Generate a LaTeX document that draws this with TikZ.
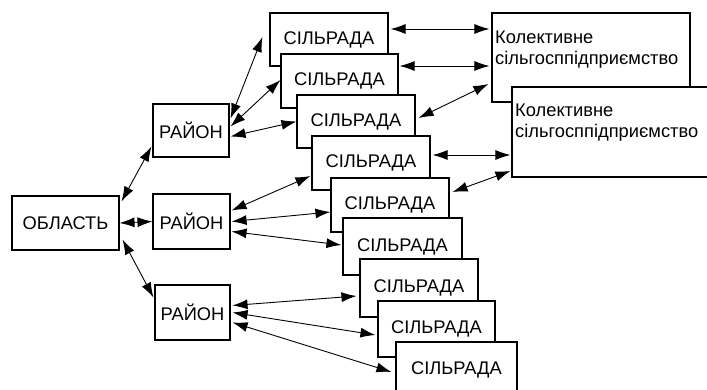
\documentclass[tikz,border=0pt]{standalone}
\usepackage{fontspec}
\setmainfont{Liberation Sans}
\usetikzlibrary{arrows.meta}
\begin{document}
\begin{tikzpicture}[x=1pt,y=-1pt,
  box/.style={draw, fill=white, line width=1.1pt, inner sep=0pt, font=\fontsize{18.3}{21}\selectfont},
  lbl/.style={inner sep=0pt, align=left, anchor=west, font=\fontsize{18.3}{21}\selectfont},
  dbl/.style={{Latex[length=15pt,width=10pt]}-{Latex[length=15pt,width=10pt]}, line width=0.9pt}]
\useasboundingbox (0,0) rectangle (707,390);
\node[box, minimum width=107pt, minimum height=54pt] (O) at (65.5,223) {ОБЛАСТЬ};
\node[box, minimum width=76pt, minimum height=53pt] (R1) at (191,130.5) {РАЙОН};
\node[box, minimum width=77pt, minimum height=55pt] (R2) at (191.5,221.5) {РАЙОН};
\node[box, minimum width=75pt, minimum height=55pt] (R3) at (192.5,312.5) {РАЙОН};
% Kolektyvne boxes
\node[box, minimum width=198pt, minimum height=89pt] (KA) at (591,57.5) {};
\node[lbl] (KAt) at (495,50) {Колективне\\сільгосппідприємство};
\node[box, minimum width=208pt, minimum height=90pt] (KB) at (616,132) {};
\node[lbl] (KBt) at (515,123) {Колективне\\сільгосппідприємство};
% Silrada cascade
\node[box, minimum width=118pt, minimum height=53pt] (S1) at (329,39.5) {СІЛЬРАДА};
\node[box, minimum width=117pt, minimum height=54pt] (S2) at (339.5,81) {СІЛЬРАДА};
\node[box, minimum width=118pt, minimum height=53pt] (S3) at (356,121.5) {СІЛЬРАДА};
\node[box, minimum width=118pt, minimum height=54pt] (S4) at (371,163) {СІЛЬРАДА};
\node[box, minimum width=118pt, minimum height=54pt] (S5) at (390,205) {СІЛЬРАДА};
\node[box, minimum width=119pt, minimum height=57pt] (S6) at (402.5,246.5) {СІЛЬРАДА};
\node[box, minimum width=118pt, minimum height=58pt] (S7) at (419,288) {СІЛЬРАДА};
\node[box, minimum width=117pt, minimum height=56pt] (S8) at (436.5,329) {СІЛЬРАДА};
\node[box, minimum width=121pt, minimum height=56pt] (S9) at (456.5,370) {СІЛЬРАДА};
% oblast - rayon
\draw[dbl] ([shift={(2,6)}]O.north east) -- ([shift={(-1,-11)}]R1.south west);
\draw[dbl] (O.east) -- (R2.west);
\draw[dbl] ([shift={(3,-11)}]O.south east) -- ([shift={(-1,-15)}]R3.west);
% rayon - silrada
\draw[dbl] ([shift={(1,-12)}]R1.east) -- ([shift={(-7,-2.5)}]S1.west);
\draw[dbl] ([shift={(1,-4)}]R1.east) -- ([shift={(0,-1)}]S2.west);
\draw[dbl] ([shift={(1,6)}]R1.east) -- (S3.west);
\draw[dbl] ([shift={(1,-11)}]R2.east) -- ([shift={(-1,13)}]S4.west);
\draw[dbl] ([shift={(1,0)}]R2.east) -- ([shift={(0,7)}]S5.west);
\draw[dbl] ([shift={(1,10)}]R2.east) -- ([shift={(-1,-1.5)}]S6.west);
\draw[dbl] ([shift={(2,-7)}]R3.east) -- ([shift={(-3,8)}]S7.west);
\draw[dbl] ([shift={(2,0)}]R3.east) -- ([shift={(-2,6)}]S8.west);
\draw[dbl] ([shift={(2,10)}]R3.east) -- ([shift={(-4,2)}]S9.west);
% silrada - kolektyvne
\draw[dbl] ([shift={(2,-10.5)}]S1.east) -- ([shift={(-2,-28.5)}]KA.west);
\draw[dbl] ([shift={(1,-15)}]S2.east) -- ([shift={(-2,8.5)}]KA.west);
\draw[dbl] ([shift={(3,-3.5)}]S3.east) -- ([shift={(-3,26.5)}]KA.west);
\draw[dbl] ([shift={(2,-8)}]S4.east) -- ([shift={(-1,23)}]KB.west);
\draw[dbl] ([shift={(3,-13)}]S5.east) -- ([shift={(-1,39)}]KB.west);
\end{tikzpicture}
\end{document}
